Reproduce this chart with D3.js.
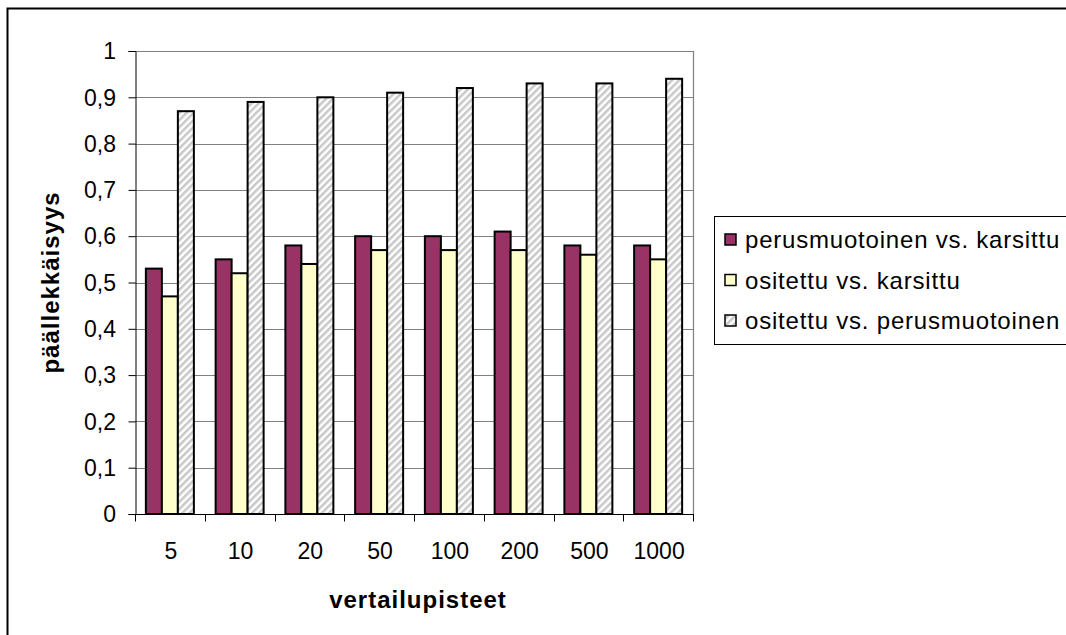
<!DOCTYPE html>
<html>
<head>
<meta charset="utf-8">
<script src="https://cdn.jsdelivr.net/npm/d3@7"></script>
<style>
  html, body { margin: 0; padding: 0; background: #fff; }
  svg { display: block; font-family: Arial, "Liberation Sans", sans-serif; }
  .tk { font-size: 23px; fill: #000; }
  .lg { font-size: 24px; letter-spacing: 0.8px; fill: #000; }
  .ttl { font-size: 24px; font-weight: bold; letter-spacing: 1px; fill: #000; }
</style>
</head>
<body>
<svg id="chart" width="1066" height="635"></svg>
<script>
// Category labels (x axis)
const categories = ["5", "10", "20", "50", "100", "200", "500", "1000"];

// Series names
const seriesNames = [
  "perusmuotoinen vs. karsittu",
  "ositettu vs. karsittu",
  "ositettu vs. perusmuotoinen"
];

// Series values
const perusVsKarsittu = [0.53, 0.55, 0.58, 0.60, 0.60, 0.61, 0.58, 0.58];
const ositettuVsKarsittu = [0.47, 0.52, 0.54, 0.57, 0.57, 0.57, 0.56, 0.55];
const ositettuVsPerus = [0.87, 0.89, 0.90, 0.91, 0.92, 0.93, 0.93, 0.94];

// Y tick values
const yTicks = [0, 0.1, 0.2, 0.3, 0.4, 0.5, 0.6, 0.7, 0.8, 0.9, 1];

const seriesValues = [perusVsKarsittu, ositettuVsKarsittu, ositettuVsPerus];

const svg = d3.select("#chart");
const defs = svg.append("defs");

// Diagonal hatch for the third series
const pat = defs.append("pattern")
  .attr("id", "hatch")
  .attr("patternUnits", "userSpaceOnUse")
  .attr("width", 5).attr("height", 5)
  .attr("patternTransform", "rotate(45)");
pat.append("rect").attr("width", 5).attr("height", 5).attr("fill", "#ffffff");
pat.append("rect").attr("x", 0).attr("width", 2.5).attr("height", 5).attr("fill", "#c8c8c8");

const fills = ["#993366", "#ffffcc", "url(#hatch)"];

// Outer chart frame
svg.append("path")
  .attr("d", "M7.5,640 L7.5,8.5 L1070,8.5")
  .attr("fill", "none").attr("stroke", "#000").attr("stroke-width", 2);

const plot = { left: 135, top: 51, right: 693, bottom: 514 };

const x = d3.scaleBand().domain(categories).range([plot.left, plot.right]);
const inner = d3.scaleBand().domain(d3.range(seriesNames.length))
  .range([0, x.bandwidth()]).paddingOuter(0.68).paddingInner(0);
const y = d3.scaleLinear().domain([0, 1]).range([plot.bottom, plot.top]);

// Gridlines
svg.append("g").selectAll("line")
  .data(yTicks.filter(d => d > 0))
  .join("line")
  .attr("x1", plot.left).attr("x2", plot.right)
  .attr("y1", d => Math.round(y(d)) + 0.5).attr("y2", d => Math.round(y(d)) + 0.5)
  .attr("stroke", "#808080").attr("stroke-width", 1.2);

// Right edge of plot area
svg.append("line")
  .attr("x1", plot.right + 0.5).attr("x2", plot.right + 0.5)
  .attr("y1", plot.top).attr("y2", plot.bottom)
  .attr("stroke", "#808080").attr("stroke-width", 1.2);

// Bars
const groups = svg.append("g").selectAll("g")
  .data(categories)
  .join("g")
  .attr("transform", d => `translate(${x(d)},0)`);

groups.selectAll("rect")
  .data((d, i) => seriesValues.map((vals, s) => ({ s, v: vals[i] })))
  .join("rect")
  .attr("x", d => inner(d.s))
  .attr("width", inner.bandwidth())
  .attr("y", d => y(d.v))
  .attr("height", d => y(0) - y(d.v))
  .attr("fill", d => fills[d.s])
  .attr("stroke", "#000")
  .attr("stroke-width", 2);

// Y axis
const fmt = d => d === 0 ? "0" : d === 1 ? "1" : d3.format(".1f")(d).replace(".", ",");
const yAxis = d3.axisLeft(y).tickValues(yTicks).tickSize(7).tickFormat("");
const gy = svg.append("g").attr("transform", `translate(${plot.left + 0.5},0)`).call(yAxis);
gy.selectAll("line, path").attr("stroke", "#000");
svg.append("g").selectAll("text")
  .data(yTicks)
  .join("text")
  .attr("class", "tk")
  .attr("x", 116)
  .attr("y", d => y(d))
  .attr("dy", "0.36em")
  .attr("text-anchor", "end")
  .text(fmt);

// X axis: ticks at category boundaries
const gx = svg.append("g").attr("transform", `translate(0,${plot.bottom + 0.5})`);
gx.append("line")
  .attr("x1", plot.left).attr("x2", plot.right + 1)
  .attr("stroke", "#000");
gx.selectAll("line.tick")
  .data(categories.map(c => x(c)).concat([plot.right]))
  .join("line")
  .attr("class", "tick")
  .attr("x1", d => Math.round(d) + 0.5).attr("x2", d => Math.round(d) + 0.5)
  .attr("y1", 0).attr("y2", 7)
  .attr("stroke", "#000");
gx.selectAll("text")
  .data(categories)
  .join("text")
  .attr("class", "tk")
  .attr("x", d => x(d) + x.bandwidth() / 2 + 1)
  .attr("y", 44)
  .attr("text-anchor", "middle")
  .text(d => d);

// Axis titles
svg.append("text")
  .attr("class", "ttl")
  .attr("x", (plot.left + plot.right) / 2 + 4)
  .attr("y", 608)
  .attr("text-anchor", "middle")
  .text("vertailupisteet");

svg.append("text")
  .attr("class", "ttl")
  .attr("transform", `translate(59,${(plot.top + plot.bottom) / 2}) rotate(-90)`)
  .attr("text-anchor", "middle")
  .text("päällekkäisyys");

// Legend
const legend = svg.append("g");
legend.append("rect")
  .attr("x", 714.5).attr("y", 216.5)
  .attr("width", 400).attr("height", 128)
  .attr("fill", "#fff").attr("stroke", "#000").attr("stroke-width", 1);

const items = legend.selectAll("g.item")
  .data(seriesNames)
  .join("g")
  .attr("class", "item")
  .attr("transform", (d, i) => `translate(0,${240 + i * 40.5})`);
items.append("rect")
  .attr("x", 725).attr("y", -6).attr("width", 11).attr("height", 11)
  .attr("fill", (d, i) => fills[i])
  .attr("stroke", "#000").attr("stroke-width", 1.5);
items.append("text")
  .attr("class", "lg")
  .attr("x", 745).attr("y", 8)
  .text(d => d);
</script>
</body>
</html>
